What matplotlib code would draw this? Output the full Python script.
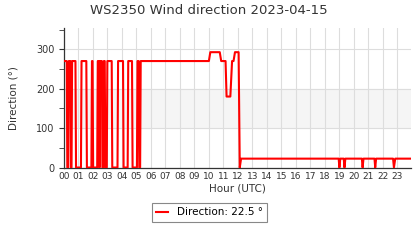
import matplotlib
matplotlib.use("Agg")
import matplotlib.pyplot as plt
from matplotlib.ticker import MultipleLocator

# wind direction samples (hour of day, degrees)
hours = [0.00, 0.20, 0.24, 0.30, 0.34, 0.45, 0.49, 0.53, 0.57, 0.80, 0.84, 1.18,
         1.22, 1.55, 1.59, 1.90, 1.94, 1.98, 2.02, 2.30, 2.34, 2.42, 2.46, 2.50,
         2.62, 2.66, 2.72, 2.76, 2.82, 2.86, 2.96, 3.00, 3.30, 3.34, 3.70, 3.74,
         4.08, 4.12, 4.40, 4.44, 4.70, 4.74, 5.04, 5.08, 5.16, 5.20, 5.26, 5.30,
         10.00, 10.10, 10.75, 10.85, 11.15, 11.22, 11.48, 11.60, 11.70, 11.80,
         12.05, 12.13, 12.22, 18.95, 19.00, 19.06, 19.30, 19.35, 19.41, 20.55,
         20.60, 20.66, 21.42, 21.47, 21.53, 22.70, 22.76, 22.85, 23.92]
direction = [270, 270, 0, 0, 270, 270, 0, 0, 270, 270, 0, 0,
             270, 270, 0, 0, 270, 270, 0, 0, 270, 270, 0, 270,
             270, 0, 0, 270, 270, 0, 0, 270, 270, 0, 0, 270,
             270, 0, 0, 270, 270, 0, 0, 270, 270, 0, 0, 270,
             270, 292.5, 292.5, 270, 270, 180, 180, 270, 270, 292.5,
             292.5, 0, 22.5, 22.5, 0, 22.5, 22.5, 0, 22.5, 22.5,
             0, 22.5, 22.5, 0, 22.5, 22.5, 0, 22.5, 22.5]
hour_labels = ["%02d" % h for h in range(24)]
last_value = 22.5

fig = plt.figure(figsize=(4.2, 2.4), dpi=100)
ax = fig.add_axes([0.152, 0.302, 0.826, 0.58])

ax.axhspan(100, 200, color="#f5f5f5", zorder=0)
ax.plot(hours, direction, color="red", lw=1.5, label="Direction: %s °" % last_value, zorder=3)

ax.set_xlim(0, 23.92)
ax.set_ylim(0, 353)
ax.set_xticks(range(24))
ax.set_xticklabels(hour_labels)
ax.set_yticks([0, 100, 200, 300])
ax.yaxis.set_minor_locator(MultipleLocator(50))
ax.grid(True, which="major", color="#dddddd", lw=0.8, zorder=1)
ax.tick_params(axis="x", length=0, labelsize=6.5, colors="#333333", pad=3)
ax.tick_params(axis="y", which="both", length=3.5, labelsize=7, colors="#333333", pad=3)

for s in ["top", "right"]:
    ax.spines[s].set_visible(False)
for s in ["left", "bottom"]:
    ax.spines[s].set_color("#333333")
    ax.spines[s].set_linewidth(0.9)

fig.text(0.498, 0.955, "WS2350 Wind direction 2023-04-15", fontsize=9.5,
         color="#333333", ha="center", va="center")
ax.set_xlabel("Hour (UTC)", fontsize=7.5, color="#333333", labelpad=2)
ax.set_ylabel("Direction (°)", fontsize=7.5, color="#333333", labelpad=13)

leg = fig.legend(loc="center", bbox_to_anchor=(0.498, 0.115), fontsize=7.5,
                 fancybox=False, framealpha=1, handlelength=1.2, borderpad=0.4)
leg.get_frame().set_edgecolor("#888888")
leg.get_frame().set_linewidth(0.8)

fig.savefig("out.png", dpi=100)
